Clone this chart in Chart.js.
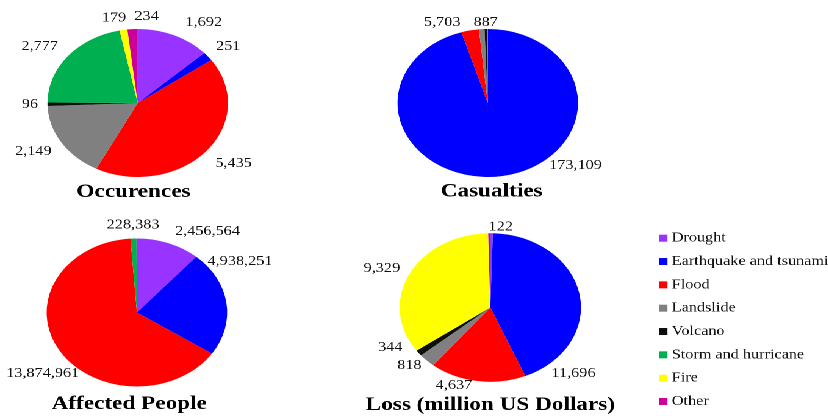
<!DOCTYPE html>
<html>
<head>
<meta charset="utf-8">
<script src="https://cdn.jsdelivr.net/npm/chart.js@4.4.1/dist/chart.umd.min.js"></script>
<style>
  html, body { margin: 0; padding: 0; background: #ffffff; width: 828px; height: 416px; overflow: hidden; }
  #stage { position: absolute; left: 0; top: 0; width: 720px; height: 416px; transform: scaleX(1.22); transform-origin: 0 0; }
  #stage canvas { position: absolute; left: 0; top: 0; }
</style>
</head>
<body>
<div id="stage">
  <canvas id="cOcc" width="720" height="416"></canvas>
  <canvas id="cCas" width="720" height="416"></canvas>
  <canvas id="cAff" width="720" height="416"></canvas>
  <canvas id="cLoss" width="720" height="416"></canvas>
</div>
<script>
// ---------------- DATA ----------------
const categories = ['Drought', 'Earthquake and tsunami', 'Flood', 'Landslide', 'Volcano', 'Storm and hurricane', 'Fire', 'Other'];
const occurrences    = [1692, 251, 5435, 2149, 96, 2777, 179, 234];
const casualties     = [0, 173109, 5703, 1800, 887, 150, 0, 0];
const affectedPeople = [2456564, 4938251, 13874961, 0, 0, 228383, 0, 15000];
const lossMillionUSD = [122, 11696, 4637, 818, 344, 0, 9329, 100];
const chartTitles = ['Occurences', 'Casualties', 'Affected People', 'Loss (million US Dollars)'];

// ---------------- STYLE ----------------
const sliceColors = ['#9933FF', '#0000FF', '#FF0000', '#808080', '#0D0D0D', '#00B050', '#FFFF00', '#CC0099'];
const W = 720, H = 416;
const SERIF = '"Liberation Serif", "Times New Roman", Times, serif';

const piePlugin = {
  id: 'pieDecor',
  afterDraw(chart, args, opts) {
    const ctx = chart.ctx;
    const meta = chart.getDatasetMeta(0);
    const values = chart.data.datasets[0].data;
    ctx.save();
    ctx.fillStyle = '#111111';
    ctx.font = opts.labelSize + 'px ' + SERIF;
    ctx.textAlign = 'center';
    ctx.textBaseline = 'middle';
    meta.data.forEach((arc, i) => {
      const v = values[i];
      const adj = opts.labelAdjust[i];
      if (!v || !adj) return;
      const p = arc.getProps(['x', 'y', 'startAngle', 'endAngle', 'outerRadius'], true);
      const a = (p.startAngle + p.endAngle) / 2 + adj[0] * Math.PI / 180;
      const R = p.outerRadius + adj[1];
      const txt = v.toLocaleString('en-US');
      const w = ctx.measureText(txt).width;
      const h = opts.labelSize;
      const tx = p.x + Math.cos(a) * R + Math.cos(a) * w / 2;
      const ty = p.y + Math.sin(a) * R + Math.sin(a) * h / 2;
      ctx.fillText(txt, tx, ty);
    });
    // title under the pie
    const c = meta.data[0];
    ctx.font = 'bold ' + opts.titleSize + 'px ' + SERIF;
    ctx.fillStyle = '#000000';
    ctx.textBaseline = 'alphabetic';
    ctx.fillText(opts.title, c.x + opts.titleDx, opts.titleY);

    // legend (only on the chart that asks for it)
    if (opts.legend) {
      const L = opts.legend;
      ctx.font = L.size + 'px ' + SERIF;
      ctx.textAlign = 'left';
      chart.data.labels.forEach((lab, i) => {
        const base = L.y + i * L.step;
        ctx.fillStyle = chart.data.datasets[0].backgroundColor[i];
        ctx.fillRect(L.x, base - L.box, L.boxW, L.box);
        ctx.fillStyle = '#111111';
        ctx.fillText(lab, L.textX, base);
      });
    }
    ctx.restore();
  }
};

function makePie(id, values, title, cx, cy, r, labelAdjust, titleDx, titleY, legend) {
  return new Chart(document.getElementById(id), {
    type: 'pie',
    data: {
      labels: categories,
      datasets: [{ data: values, backgroundColor: sliceColors, borderWidth: 0 }]
    },
    options: {
      responsive: false,
      devicePixelRatio: 2,
      animation: false,
      events: [],
      layout: { padding: { left: cx - r, top: cy - r, right: W - (cx + r), bottom: H - (cy + r) } },
      plugins: {
        legend: { display: false },
        tooltip: { enabled: false },
        title: { display: false },
        pieDecor: { title, labelAdjust, labelSize: 13.3, titleSize: 19, titleDx, titleY, legend }
      }
    },
    plugins: [piePlugin]
  });
}

makePie('cOcc', occurrences, chartTitles[0], 112.9, 103, 74,
  [[8, 13.8], [0.7, 10.5], [-1, 13.5], [0.7, 11.7], [0, 7.8], [-2, 12.2], [-3.4, 6.2], [7.9, 6.1]],
  -3.5, 197, null);
makePie('cCas', casualties, chartTitles[1], 399.8, 103, 74,
  [null, [-36, 7], [-11.7, 6.6], null, [0, 0], null, null, null],
  3.2, 196.7, null);
makePie('cAff', affectedPeople, chartTitles[2], 112.2, 312.5, 74,
  [[10, 13.3], [-29, 4.6], [-15, 5.6], null, null, [0.4, 7], null, null],
  -6.3, 409, null);
makePie('cLoss', lossMillionUSD, chartTitles[3], 401.9, 307.5, 74.3,
  [[5, 0], [58, 8.5], [11, 1.6], [3.3, 5.3], [11, 7.7], null, [-1, 9.3], null],
  0, 410,
  { x: 540.4, textX: 550.6, y: 241.7, step: 23.33, box: 7, boxW: 6.7, size: 13.3 });
</script>
</body>
</html>
